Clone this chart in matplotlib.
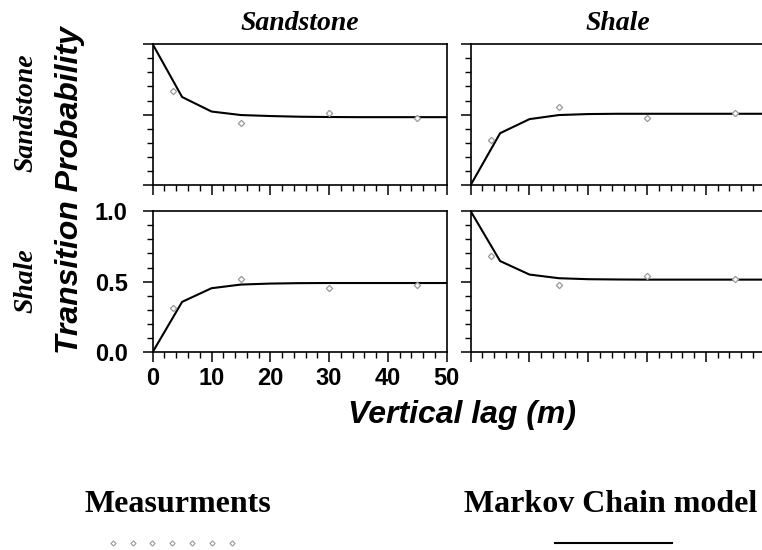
import numpy as np
import matplotlib
matplotlib.use('Agg')
import matplotlib.pyplot as plt
from matplotlib.lines import Line2D
from matplotlib.ticker import MultipleLocator, FormatStrFormatter, NullFormatter

plt.rcParams['font.family'] = ['Liberation Sans', 'DejaVu Sans']

# ------------- data -------------------

facies = ["Sandstone", "Shale"]

lag_model = [0, 5, 10, 15, 20, 25, 30, 35, 40, 45, 50]
lag_meas = [3.5, 15, 30, 45]

# model (Markov chain) transition probabilities, row = from, col = to
model_ss = [1.0, 0.625, 0.522, 0.497, 0.490, 0.485, 0.483, 0.482, 0.482, 0.482, 0.482]
model_sh = [0.0, 0.368, 0.468, 0.497, 0.504, 0.506, 0.506, 0.506, 0.506, 0.506, 0.506]
model_hs = [0.0, 0.356, 0.453, 0.479, 0.486, 0.489, 0.490, 0.490, 0.490, 0.490, 0.490]
model_hh = [1.0, 0.646, 0.550, 0.524, 0.517, 0.515, 0.514, 0.514, 0.514, 0.514, 0.514]

# measured transition probabilities
meas_ss = [0.668, 0.437, 0.511, 0.478]
meas_sh = [0.323, 0.554, 0.478, 0.511]
meas_hs = [0.311, 0.521, 0.458, 0.479]
meas_hh = [0.684, 0.476, 0.543, 0.521]

models = [[model_ss, model_sh], [model_hs, model_hh]]
meas = [[meas_ss, meas_sh], [meas_hs, meas_hh]]

# ------------- figure -------------------

fig = plt.figure(figsize=(7.62, 5.50), dpi=100)

lefts = [0.2004, 0.6177]
bottoms = [0.6636, 0.36]
w, h = 0.3858, 0.256

serif_bi = dict(family=['Liberation Serif', 'DejaVu Serif'], style='italic',
                weight='bold', size=20)

for i in range(2):
    for j in range(2):
        ax = fig.add_axes([lefts[j], bottoms[i], w, h])
        ax.plot(lag_model, models[i][j], color='black', lw=1.5)
        ax.plot(lag_meas, meas[i][j], ls='none', marker='D', ms=3.2,
                mfc='white', mec='#999999', mew=0.9)
        ax.set_xlim(0, 50)
        ax.set_ylim(0, 1)
        ax.xaxis.set_major_locator(MultipleLocator(10))
        ax.xaxis.set_minor_locator(MultipleLocator(2))
        ax.yaxis.set_major_locator(MultipleLocator(0.5))
        ax.yaxis.set_minor_locator(MultipleLocator(0.1))
        ax.tick_params(which='major', direction='out', length=7, width=1.1)
        ax.tick_params(which='minor', direction='out', length=4, width=1.0)
        for sp in ax.spines.values():
            sp.set_linewidth(1.2)
        if i == 1 and j == 0:
            ax.xaxis.set_major_formatter(FormatStrFormatter('%d'))
            ax.yaxis.set_major_formatter(FormatStrFormatter('%.1f'))
            ax.tick_params(axis='x', which='major', labelsize=17, pad=4)
            ax.tick_params(axis='y', which='major', labelsize=17, pad=11)
            for lab in ax.get_xticklabels() + ax.get_yticklabels():
                lab.set_fontweight('bold')
        else:
            ax.xaxis.set_major_formatter(NullFormatter())
            ax.yaxis.set_major_formatter(NullFormatter())
        if i == 0:
            ax.set_title(facies[j], pad=10, **serif_bi)

# row labels
fig.text(0.034, 0.795, facies[0], rotation=90, ha='center', va='center', **serif_bi)
fig.text(0.034, 0.49, facies[1], rotation=90, ha='center', va='center', **serif_bi)

fig.text(0.092, 0.655, "Transition Probability", rotation=90, ha='center',
         va='center', fontsize=23, fontweight='bold', style='italic')
fig.text(0.606, 0.245, "Vertical lag (m)", ha='center', va='center',
         fontsize=23, fontweight='bold', style='italic')

# legend at bottom
legend_font = dict(family=['Liberation Serif', 'DejaVu Serif'], weight='bold', size=23)
fig.text(0.2335, 0.082, "Measurments", ha='center', va='center', **legend_font)
fig.text(0.609, 0.082, "Markov Chain model", ha='left', va='center', **legend_font)

fig.add_artist(Line2D(np.linspace(0.148, 0.304, 7), [0.013] * 7,
                      transform=fig.transFigure, ls='none', marker='D', ms=2.6,
                      mfc='white', mec='#999999', mew=0.8))
fig.add_artist(Line2D([0.728, 0.882], [0.013, 0.013], transform=fig.transFigure,
                      color='black', lw=1.5))

fig.savefig('out.png', dpi=100)
